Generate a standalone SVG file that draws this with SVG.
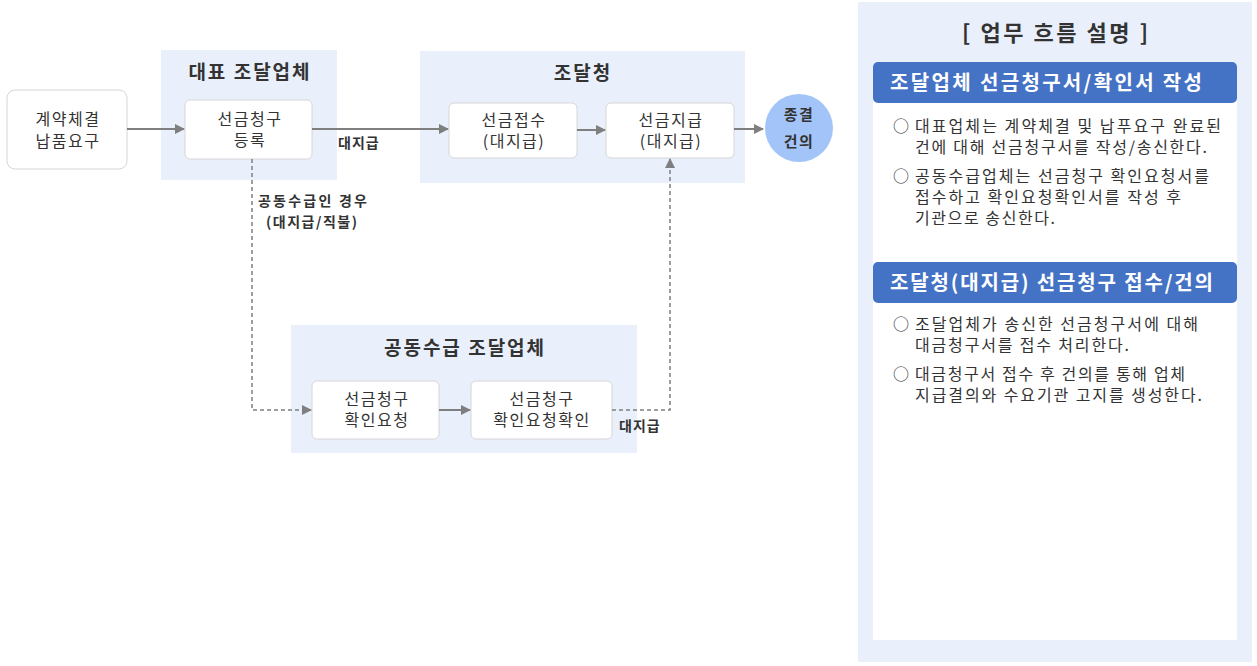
<svg xmlns="http://www.w3.org/2000/svg" width="1257" height="666" viewBox="0 0 1257 666">
<style>
text{font-family:"Noto Sans CJK KR","Noto Sans",sans-serif;fill:#333}
.grp{fill:#e9f0fc}
.box{fill:#fff;stroke:#d6d6d6;stroke-width:1}
.t{font-size:16px;text-anchor:middle;letter-spacing:1.5px}
.h{font-size:19px;font-weight:bold;text-anchor:middle;letter-spacing:2px}
.l{font-size:14px;font-weight:bold;letter-spacing:1px}
.c{stroke:#7f7f7f;stroke-width:2;fill:none}
.d{stroke:#7f7f7f;stroke-width:1.5;fill:none;stroke-dasharray:4 3}
.p{font-size:16px}
.hb{fill:#4472c4}
.ht{font-size:20px;font-weight:bold;fill:#fff}
</style>
<defs><marker id="a" markerWidth="10" markerHeight="10" refX="9" refY="5" orient="auto" markerUnits="userSpaceOnUse"><path d="M0,0L10,5L0,10z" fill="#7f7f7f"/></marker></defs>
<rect width="1257" height="666" fill="#fff"/>
<g id="grp-rep"><rect class="grp" x="161" y="50" width="176" height="130"/><text class="h" x="250" y="79">대표 조달업체</text></g>
<g id="grp-agency"><rect class="grp" x="420" y="51" width="325" height="132"/><text class="h" x="583" y="80">조달청</text></g>
<g id="grp-joint"><rect class="grp" x="291" y="325" width="346" height="128"/><text class="h" x="465" y="355">공동수급 조달업체</text></g>
<g id="n1"><rect class="box" x="7" y="90" width="120" height="79" rx="8"/><text class="t" x="68" y="125">계약체결</text><text class="t" x="68" y="147">납품요구</text></g>
<g id="n2"><rect class="box" x="185" y="100" width="127" height="59" rx="5"/><text class="t" x="250" y="125">선금청구</text><text class="t" x="250" y="146">등록</text></g>
<g id="n3"><rect class="box" x="449" y="103" width="128" height="55" rx="5"/><text class="t" x="514" y="126">선금접수</text><text class="t" x="514" y="147">(대지급)</text></g>
<g id="n4"><rect class="box" x="606" y="103" width="128" height="55" rx="5"/><text class="t" x="671" y="126">선금지급</text><text class="t" x="671" y="147">(대지급)</text></g>
<g id="n5"><circle cx="799" cy="128" r="34" fill="#a3c4f8"/><text class="t" x="799" y="120" style="font-weight:bold;font-size:15px">종결</text><text class="t" x="799" y="147" style="font-weight:bold;font-size:15px">건의</text></g>
<g id="n6"><rect class="box" x="312" y="381" width="127" height="58" rx="5"/><text class="t" x="377" y="405">선금청구</text><text class="t" x="377" y="426">확인요청</text></g>
<g id="n7"><rect class="box" x="471" y="381" width="141" height="58" rx="5"/><text class="t" x="542" y="405">선금청구</text><text class="t" x="542" y="426">확인요청확인</text></g>
<g id="connectors">
<path class="c" d="M127,129H184" marker-end="url(#a)"/>
<path class="c" d="M312,129H448" marker-end="url(#a)"/>
<path class="c" d="M577,130H605" marker-end="url(#a)"/>
<path class="c" d="M734,129H763" marker-end="url(#a)"/>
<path class="d" d="M252,159V410H311" marker-end="url(#a)"/>
<path class="c" d="M439,410H470" marker-end="url(#a)"/>
<path class="d" d="M612,410H670V159" marker-end="url(#a)"/>
<text class="l" x="338" y="148">대지급</text>
<text class="l" x="258" y="206" textLength="110">공동수급인 경우</text>
<text class="l" x="266" y="227" textLength="92">(대지급/직불)</text>
<text class="l" x="619" y="431">대지급</text>
</g>
<g id="panel">
<rect x="858" y="2" width="394" height="660" fill="#e9f0fc"/>
<rect x="873" y="65" width="364" height="575" fill="#fff"/>
<text x="962" y="41" textLength="186" style="font-size:22px;font-weight:bold">[ 업무 흐름 설명 ]</text>
<rect class="hb" x="873" y="62" width="364" height="41" rx="5"/>
<text class="ht" x="890" y="90" textLength="312">조달업체 선금청구서/확인서 작성</text>
<text class="p" x="893" y="132">○</text><text class="p" x="915" y="132" textLength="306">대표업체는 계약체결 및 납푸요구 완료된</text>
<text class="p" x="915" y="153" textLength="292">건에 대해 선금청구서를 작성/송신한다.</text>
<text class="p" x="893" y="182">○</text><text class="p" x="915" y="182" textLength="294">공동수급업체는 선금청구 확인요청서를</text>
<text class="p" x="915" y="203" textLength="266">접수하고 확인요청확인서를 작성 후</text>
<text class="p" x="915" y="224" textLength="140">기관으로 송신한다.</text>
<rect class="hb" x="873" y="262" width="364" height="41" rx="5"/>
<text class="ht" x="890" y="290" textLength="323">조달청(대지급) 선금청구 접수/건의</text>
<text class="p" x="893" y="330">○</text><text class="p" x="915" y="330" textLength="283">조달업체가 송신한 선금청구서에 대해</text>
<text class="p" x="915" y="351" textLength="214">대금청구서를 접수 처리한다.</text>
<text class="p" x="893" y="380">○</text><text class="p" x="915" y="380" textLength="270">대금청구서 접수 후 건의를 통해 업체</text>
<text class="p" x="915" y="401" textLength="287">지급결의와 수요기관 고지를 생성한다.</text>
</g>
</svg>
